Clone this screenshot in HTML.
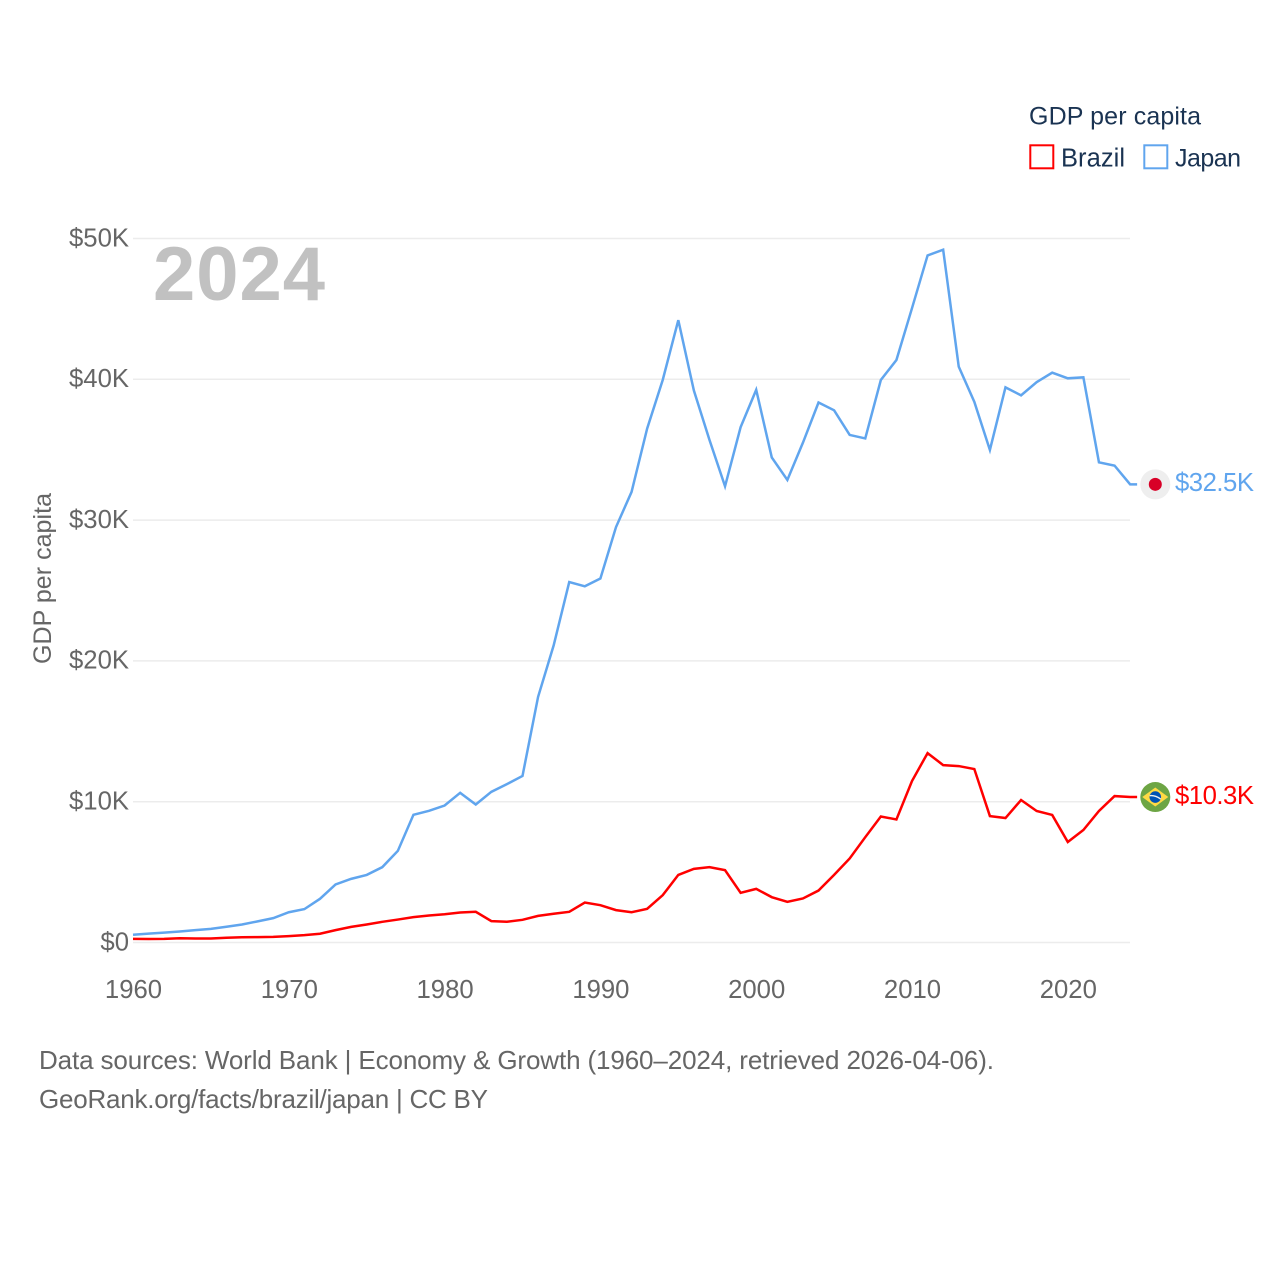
<!DOCTYPE html>
<html lang="en">
<head>
<meta charset="utf-8">
<title>GDP per capita: Brazil and Japan</title>
<style>
html,body{margin:0;padding:0;background:#fff;}
svg{display:block;font-family:"Liberation Sans",sans-serif;}
</style>
</head>
<body>
<svg id="chart" xmlns="http://www.w3.org/2000/svg" width="1280" height="1280" viewBox="0 0 1280 1280">
  <rect x="0" y="0" width="1280" height="1280" fill="#ffffff"/>
  <g id="grid"></g>
  <g id="y-ticks"></g>
  <g id="x-ticks"></g>
  <text x="153" y="300" font-size="76" font-weight="700" fill="#c1c1c1" textLength="172">2024</text>
  <text transform="translate(51,664) rotate(-90)" font-size="25" fill="#666666" textLength="171">GDP per capita</text>
  <g id="series"></g>
  <g id="end-markers"></g>
  <g>
    <text x="1029" y="124.5" font-size="25" fill="#1a3352" textLength="172">GDP per capita</text>
    <g>
      <rect x="1030.3" y="145.3" width="23" height="23" fill="#ffffff" stroke="#ff0000" stroke-width="2"/>
      <text x="1061" y="166.5" font-size="25.5" fill="#1a3352" textLength="64">Brazil</text>
    </g>
    <g>
      <rect x="1144.3" y="145.3" width="23" height="23" fill="#ffffff" stroke="#60a5ee" stroke-width="2"/>
      <text x="1175" y="166.5" font-size="25" fill="#1a3352" textLength="66">Japan</text>
    </g>
  </g>
  <text x="39" y="1069" font-size="26" fill="#666666" textLength="955">Data sources: World Bank | Economy &amp; Growth (1960–2024, retrieved 2026-04-06).</text>
  <text x="39" y="1108" font-size="26" fill="#666666" textLength="449">GeoRank.org/facts/brazil/japan | CC BY</text>
</svg>
<script>
var startYear = 1960;
var xTicks = [1960, 1970, 1980, 1990, 2000, 2010, 2020];
var yTicks = [0, 10, 20, 30, 40, 50];
var yTickLabels = ['$0', '$10K', '$20K', '$30K', '$40K', '$50K'];
var japan = [0.55,0.63,0.70,0.78,0.88,0.97,1.12,1.28,1.50,1.73,2.15,2.37,3.10,4.12,4.52,4.80,5.35,6.51,9.07,9.35,9.73,10.63,9.80,10.70,11.25,11.83,17.44,21.10,25.60,25.30,25.85,29.50,32.00,36.50,39.95,44.20,39.20,35.70,32.40,36.60,39.25,34.45,32.85,35.50,38.35,37.80,36.05,35.80,39.95,41.37,45.05,48.80,49.20,40.90,38.40,34.98,39.43,38.86,39.80,40.47,40.07,40.14,34.10,33.87,32.54];
var brazil = [0.26,0.25,0.26,0.30,0.28,0.28,0.34,0.37,0.38,0.40,0.45,0.52,0.62,0.88,1.11,1.28,1.47,1.63,1.80,1.92,2.01,2.13,2.18,1.52,1.47,1.61,1.89,2.04,2.18,2.84,2.65,2.30,2.15,2.39,3.36,4.80,5.23,5.35,5.14,3.53,3.81,3.22,2.89,3.13,3.69,4.80,5.97,7.48,8.95,8.74,11.47,13.45,12.60,12.53,12.32,8.98,8.84,10.12,9.34,9.06,7.14,7.99,9.34,10.40,10.33];

var NS = 'http://www.w3.org/2000/svg';
function xScale(year) { return 133 + (year - 1960) * 15.58; }
function yScale(v) { return 942.5 - v * 14.08; }
function make(tag, attrs, parent) {
  var el = document.createElementNS(NS, tag);
  for (var k in attrs) { el.setAttribute(k, attrs[k]); }
  parent.appendChild(el);
  return el;
}

var gridG = document.getElementById('grid');
var yG = document.getElementById('y-ticks');
yTicks.forEach(function (t, i) {
  var line = make('line', {x1: 133, x2: 1130, y1: yScale(t), y2: yScale(t), stroke: '#ececec', 'stroke-width': 1.5}, gridG);
  
  
  var label = make('text', {x: 129, y: yScale(t) + 7.8, 'text-anchor': 'end', 'font-size': 25.7, fill: '#666666'}, yG);
  
  
  label.textContent = yTickLabels[i];
});

var xG = document.getElementById('x-ticks');
xTicks.forEach(function (t) {
  var label = make('text', {x: xScale(t) + 0.5, y: 998, 'text-anchor': 'middle', 'font-size': 25.7, fill: '#666666'}, xG);
  
  
  label.textContent = String(t);
});

function drawSeries(values, color, name) {
  var g = document.getElementById('series');
  var pts = values.map(function (v, i) {
    return xScale(startYear + i).toFixed(2) + ',' + yScale(v).toFixed(2);
  });
  var last = values[values.length - 1];
  pts.push((xScale(startYear + values.length - 1) + 7).toFixed(2) + ',' + yScale(last).toFixed(2));
  var line = make('polyline', {points: pts.join(' '), fill: 'none', stroke: color, 'stroke-width': 2.5, 'stroke-linejoin': 'miter'}, g);
  
  
}
drawSeries(brazil, '#ff0000', 'line-brazil');
drawSeries(japan, '#60a5ee', 'line-japan');

function endLabel(values, color, name, width) {
  var v = values[values.length - 1];
  var t = make('text', {x: 1175, y: yScale(v) + 6.7, 'font-size': 25.7, fill: color, textLength: width}, document.getElementById('end-markers'));
  
  
  t.textContent = '$' + v.toFixed(1) + 'K';
}
endLabel(japan, '#60a5ee', 'end-label-japan', 79);
endLabel(brazil, '#ff0000', 'end-label-brazil', 79);

var markers = document.getElementById('end-markers');
var jy = yScale(japan[japan.length - 1]);
var jf = make('g', {transform: 'translate(1155.3,' + jy + ')'}, markers);


make('circle', {r: 15, fill: '#eeeeee'}, jf);
make('circle', {r: 6.5, fill: '#d80027'}, jf);

var by = yScale(brazil[brazil.length - 1]);
var bf = make('g', {transform: 'translate(1155.3,' + by + ')'}, markers);


make('circle', {r: 15, fill: '#6da544'}, bf);
make('polygon', {points: '-13,0 0,-9.5 13,0 0,9.5', fill: '#ffda44'}, bf);
make('circle', {r: 5.8, fill: '#0052b4'}, bf);
make('path', {d: 'M-5.6,-1.4 Q0,-2 5.4,2', fill: 'none', stroke: '#f0f0f0', 'stroke-width': 1.4}, bf);
</script>
</body>
</html>
